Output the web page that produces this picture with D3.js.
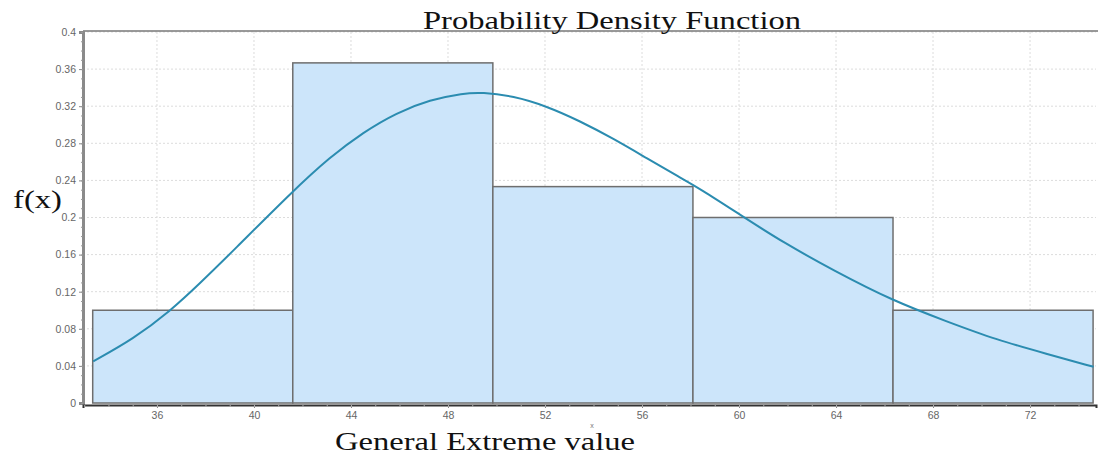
<!DOCTYPE html>
<html><head><meta charset="utf-8">
<script src="https://cdn.jsdelivr.net/npm/d3@7"></script>
<style>body{margin:0;background:#fff}svg{display:block}</style>
</head><body>
<svg id="c" width="1098" height="457"></svg>
<script>
const binEdges = [33.35, 41.6, 49.85, 58.1, 66.35, 74.6];
const binHeights = [0.1, 0.3667, 0.2333, 0.2, 0.1];
const curveX = [33.37, 35.02, 36.54, 37.77, 39.1, 41.62, 43.13, 44.51, 45.88, 47.26, 48.63, 49.4, 50.69, 52.07, 53.44, 54.82, 56.19, 57.57, 58.39, 60.1, 61.83, 63.89, 66.36, 68.56, 70.63, 72.69, 74.62];
const curveY = [0.045, 0.069, 0.099, 0.129, 0.163, 0.229, 0.265, 0.292, 0.313, 0.327, 0.334, 0.335, 0.331, 0.32, 0.304, 0.285, 0.264, 0.243, 0.231, 0.202, 0.173, 0.143, 0.11, 0.088, 0.068, 0.053, 0.039];
const xTicks = [36, 40, 44, 48, 52, 56, 60, 64, 68, 72];
const yTicks = [0, 0.04, 0.08, 0.12, 0.16, 0.2, 0.24, 0.28, 0.32, 0.36, 0.4];

const svg = d3.select("#c");
const L = 83, R = 1096, T = 32, B = 403;
const x = d3.scaleLinear().domain([32.95, 74.72]).range([L, R]);
const y = d3.scaleLinear().domain([0, 0.4]).range([B, T]);

// grid
const g = svg.append("g");
g.selectAll(".gx").data(xTicks).join("line")
  .attr("x1", d => x(d)).attr("x2", d => x(d)).attr("y1", T).attr("y2", B)
  .attr("stroke", "#dcdcdc").attr("stroke-dasharray", "2,2");
g.selectAll(".gy").data(yTicks.slice(1)).join("line")
  .attr("x1", L).attr("x2", R).attr("y1", d => y(d)).attr("y2", d => y(d))
  .attr("stroke", "#dcdcdc").attr("stroke-dasharray", "2,2");

// bars
const bins = binHeights.map((h, i) => ({x0: binEdges[i], x1: binEdges[i+1], h}));
svg.append("g").selectAll("rect").data(bins).join("rect")
  .attr("x", d => x(d.x0)).attr("y", d => y(d.h))
  .attr("width", d => x(d.x1) - x(d.x0)).attr("height", d => y(0) - y(d.h))
  .attr("fill", "#cce5fa").attr("stroke", "#6e6e6e").attr("stroke-width", 1.5);

// curve
const pts = curveX.map((v, i) => [v, curveY[i]]);
svg.append("path").datum(pts)
  .attr("d", d3.line().x(d => x(d[0])).y(d => y(d[1])).curve(d3.curveBasis))
  .attr("fill", "none").attr("stroke", "#2b8cb0").attr("stroke-width", 2);

// frame top
svg.append("line").attr("x1", L).attr("x2", 1098).attr("y1", T - 1).attr("y2", T - 1)
  .attr("stroke", "#777").attr("stroke-width", 1.5);

const sans = "Liberation Sans, Arial, sans-serif";
// y axis
const ya = svg.append("g").attr("transform", `translate(${L},0)`)
  .call(d3.axisLeft(y).tickValues(yTicks).tickSize(4).tickPadding(3)
    .tickFormat(d => d === 0 ? "0" : d3.format(".2~f")(d)));
ya.select(".domain").attr("stroke", "#8a8a8a").attr("stroke-width", 3);
ya.selectAll(".tick line").attr("stroke", "#888");
ya.selectAll("text").attr("fill", "#666").attr("font-size", 10.5).attr("font-family", sans);
svg.append("g").attr("transform", `translate(${L},0)`)
  .call(d3.axisLeft(y).ticks(40).tickSize(2).tickFormat(""))
  .call(s => s.select(".domain").remove())
  .selectAll("line").attr("stroke", "#999");

// x axis
const xa = svg.append("g").attr("transform", `translate(0,${B + 2})`)
  .call(d3.axisBottom(x).tickValues(xTicks).tickSize(3).tickPadding(4));
xa.select(".domain").attr("stroke", "#333").attr("stroke-width", 2);
xa.selectAll(".tick line").attr("stroke", "#888");
xa.selectAll("text").attr("fill", "#666").attr("font-size", 10.5).attr("font-family", sans);
svg.append("g").attr("transform", `translate(0,${B + 2})`)
  .call(d3.axisBottom(x).ticks(42).tickSize(2).tickFormat(""))
  .call(s => s.select(".domain").remove())
  .selectAll("line").attr("stroke", "#aaa");

// texts
const serif = "Liberation Serif, Times New Roman, serif";
svg.append("text").attr("x", 423).attr("y", 29)
  .attr("font-family", serif).attr("font-size", 25).attr("fill", "#111")
  .attr("textLength", 378).attr("lengthAdjust", "spacingAndGlyphs")
  .text("Probability Density Function");
svg.append("text").attr("x", 13).attr("y", 208)
  .attr("font-family", serif).attr("font-size", 26).attr("fill", "#111")
  .attr("textLength", 49).attr("lengthAdjust", "spacingAndGlyphs").text("f(x)");
svg.append("text").attr("x", 335).attr("y", 450)
  .attr("font-family", serif).attr("font-size", 25).attr("fill", "#111")
  .attr("textLength", 300).attr("lengthAdjust", "spacingAndGlyphs").text("General Extreme value");
svg.append("text").attr("x", 592).attr("y", 428).attr("text-anchor", "middle")
  .attr("font-family", sans).attr("font-size", 7).attr("fill", "#777").text("x");
</script>
</body></html>
